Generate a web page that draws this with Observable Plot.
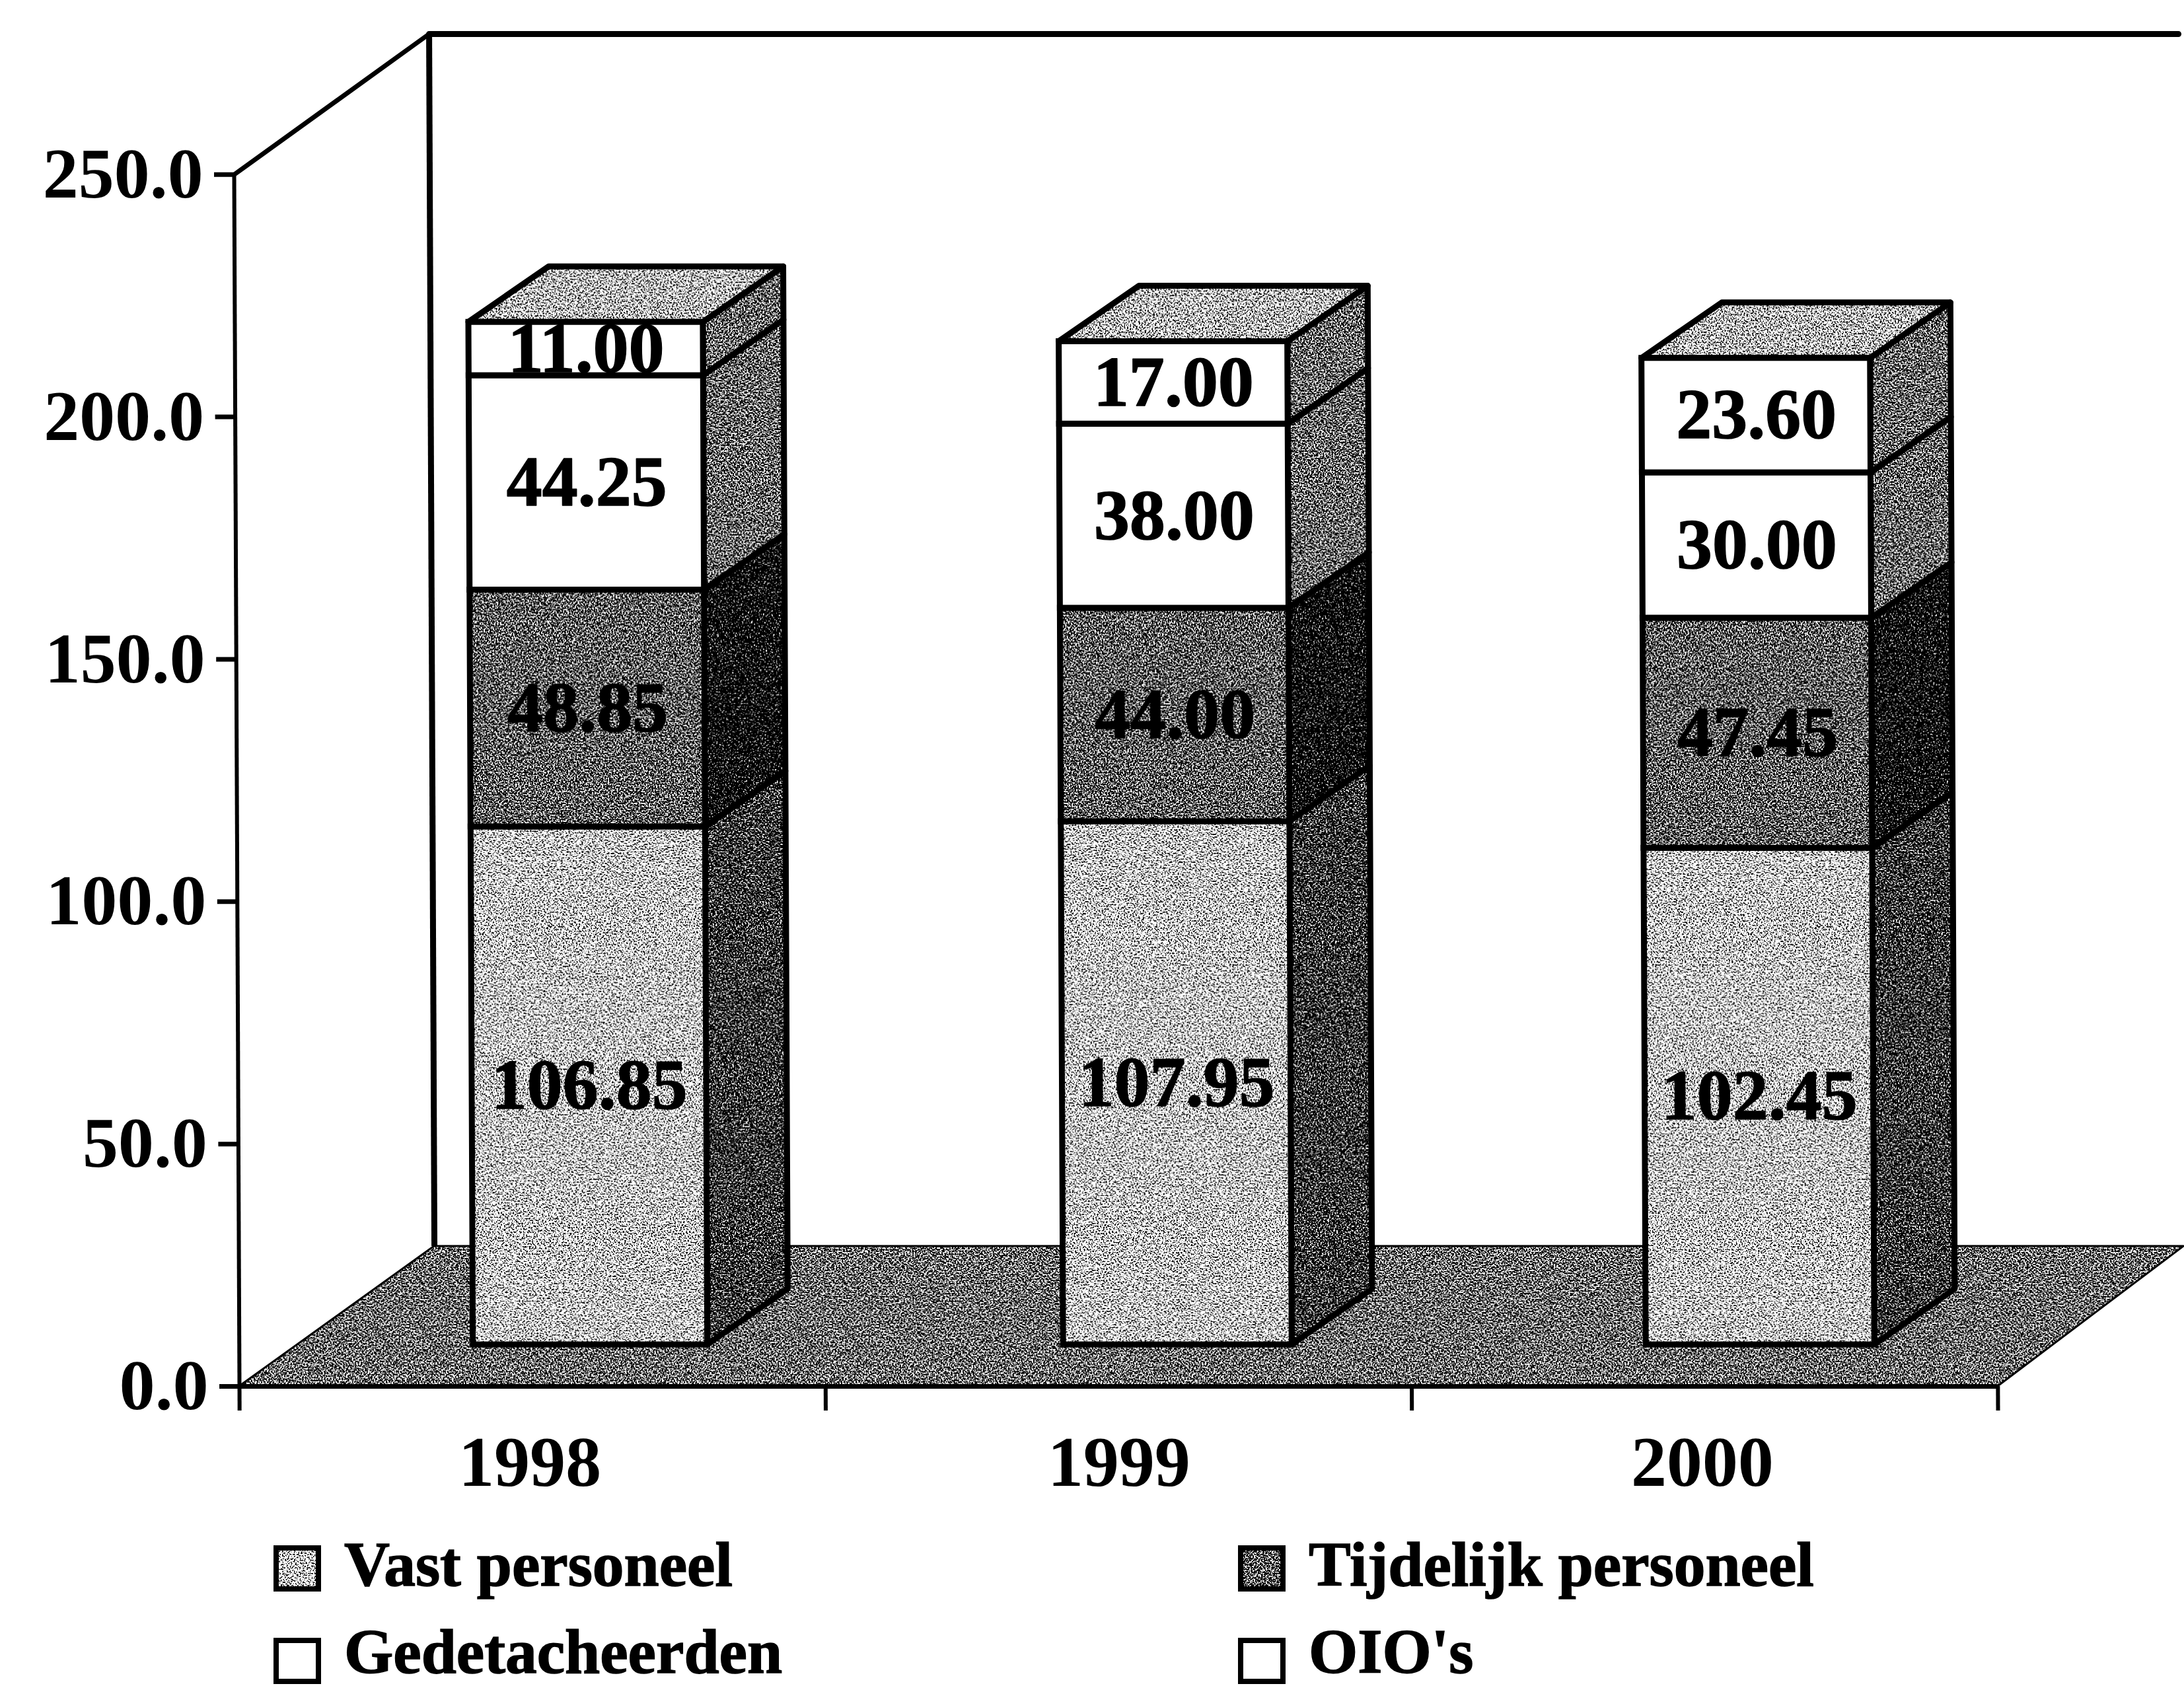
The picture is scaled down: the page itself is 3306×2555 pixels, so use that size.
<!DOCTYPE html>
<html>
<head>
<meta charset="utf-8">
<script src="https://cdn.jsdelivr.net/npm/d3@7"></script>
<script src="https://cdn.jsdelivr.net/npm/@observablehq/plot@0.6"></script>
<style>
html,body{margin:0;padding:0;background:#fff;}
#legend{position:relative;height:265px;overflow:hidden;font-family:"Liberation Serif",serif;font-weight:bold;font-size:95.5px;line-height:1;color:#000;-webkit-text-stroke:1.5px #000;}
.item{position:absolute;display:flex;align-items:center;height:72px;white-space:nowrap;}
.item svg{display:block;margin-right:35px;overflow:visible;}
.item span{position:relative;}
</style>
</head>
<body>
<svg width="0" height="0" style="position:absolute" id="defs"></svg>
<div id="chart"></div>
<div id="legend"></div>
<script>
// Values
const years = ["1998", "1999", "2000"];
const seriesNames = ["Vast personeel", "Tijdelijk personeel", "Gedetacheerden", "OIO's"];
const vast = [106.85, 107.95, 102.45];
const tijdelijk = [48.85, 44.00, 47.45];
const gedetacheerden = [44.25, 38.00, 30.00];
const oios = [11.00, 17.00, 23.60];
const yTicks = [0, 50, 100, 150, 200, 250];

// Structure of the pseudo-3D drawing, in data units
const barLeft = [0.399, 1.406, 2.400];
const barWidths = [0.4, 0.39, 0.39];
const barBase = 8.6;
const barDepthX = 0.1375;
const barDepthY = 11.45;
const floorDepthX = 0.3336;
const floorDepthY = 28.9;
const xMax = 3.318;
const yMax = 279;

// Speckled halftone fills
const tones = {light: 0.43, top: 0.445, mid: 0.535, floor: 0.52, side: 0.525, sideDark: 0.58, darkest: 0.65};
let defs = "";
for (const [k, t] of Object.entries(tones)) {
  const slope = 14, icpt = 0.5 - slope * t;
  const f = `type="linear" slope="${slope}" intercept="${icpt}"`;
  defs += `<filter id="n-${k}" filterUnits="userSpaceOnUse" x="0" y="0" width="640" height="640" color-interpolation-filters="sRGB">
    <feTurbulence type="fractalNoise" baseFrequency="0.45" numOctaves="2" seed="7" stitchTiles="stitch"/>
    <feColorMatrix type="matrix" values="1 0 0 0 0 1 0 0 0 0 1 0 0 0 0 0 0 0 0 1"/>
    <feComponentTransfer><feFuncR ${f}/><feFuncG ${f}/><feFuncB ${f}/></feComponentTransfer>
  </filter>
  <pattern id="p-${k}" patternUnits="userSpaceOnUse" width="640" height="640">
    <rect width="640" height="640" filter="url(#n-${k})"/>
  </pattern>`;
}
document.getElementById("defs").innerHTML = "<defs>" + defs + "</defs>";
const P = k => `url(#p-${k})`;

const seriesValues = [vast, tijdelijk, gedetacheerden, oios];
const frontFill = [P("light"), P("mid"), "white", "white"];
const sideFill = [P("sideDark"), P("darkest"), P("side"), P("side")];

// Stacked segments
const segments = [];
years.forEach((year, i) => {
  let y0 = barBase;
  seriesValues.forEach((vals, s) => {
    segments.push({year, s, value: vals[i], x1: barLeft[i], x2: barLeft[i] + barWidths[i], y1: y0, y2: y0 + vals[i]});
    y0 += vals[i];
  });
});
const sideRows = segments.flatMap(d => [
  {s: d.s, year: d.year, x: d.x2, y1: d.y1, y2: d.y2},
  {s: d.s, year: d.year, x: d.x2 + barDepthX, y1: d.y1 + barDepthY, y2: d.y2 + barDepthY}
]);
const topRows = years.flatMap((year, i) => {
  const y = barBase + vast[i] + tijdelijk[i] + gedetacheerden[i] + oios[i];
  return [
    {year, y, x1: barLeft[i], x2: barLeft[i] + barWidths[i]},
    {year, y: y + barDepthY, x1: barLeft[i] + barDepthX, x2: barLeft[i] + barWidths[i] + barDepthX}
  ];
});
const floorRows = [
  {y: 0, x1: 0, x2: 3},
  {y: floorDepthY, x1: floorDepthX, x2: xMax}
];
const ink = 9;
const labelFont = 108;

const chart = Plot.plot({
  width: 3306, height: 2290,
  marginLeft: 362, marginRight: 0, marginTop: 51, marginBottom: 192,
  x: {domain: [0, xMax], label: null},
  y: {domain: [0, yMax], label: null},
  style: {fontFamily: '"Liberation Serif", serif', fontWeight: "bold", overflow: "visible", background: "transparent",
          transform: "skewX(0.25deg)", transformOrigin: "0 2098px"},
  marks: [
    // walls
    Plot.ruleX([floorDepthX], {y1: floorDepthY, y2: yMax, stroke: "black", strokeWidth: ink}),
    Plot.line([{x: 0, y: 250}, {x: floorDepthX, y: yMax}], {x: "x", y: "y", stroke: "black", strokeWidth: 7}),
    Plot.line([{x: floorDepthX, y: yMax}, {x: xMax, y: yMax}], {x: "x", y: "y", stroke: "black", strokeWidth: ink}),
    Plot.ruleX([0], {y1: 0, y2: 250, stroke: "black", strokeWidth: 6}),
    // floor
    Plot.areaX(floorRows, {y: "y", x1: "x1", x2: "x2", fill: P("floor"), stroke: "black", strokeWidth: 3}),
    Plot.ruleY([0], {x1: 0, x2: 3, stroke: "black", strokeWidth: 7}),
    // axes
    Plot.axisY({anchor: "left", ticks: yTicks, tickSize: 30, tickPadding: 17, stroke: "black", strokeWidth: 7, fontSize: labelFont, tickFormat: d => d.toFixed(1), label: null}),
    Plot.axisX({anchor: "bottom", ticks: [0, 1, 2, 3], tickSize: 37, strokeWidth: 6, tickFormat: () => "", label: null}),
    Plot.axisX({anchor: "bottom", ticks: [0.495, 1.5, 2.495], tickSize: 0, tickPadding: 74, fontSize: labelFont, tickFormat: d => years[Math.floor(d)], label: null}),
    // bar sides, per series
    ...seriesNames.map((_, s) => Plot.areaY(sideRows.filter(d => d.s === s), {x: "x", y1: "y1", y2: "y2", z: "year", fill: sideFill[s], stroke: "black", strokeWidth: ink})),
    // bar tops
    Plot.areaX(topRows, {y: "y", x1: "x1", x2: "x2", z: "year", fill: P("top"), stroke: "black", strokeWidth: ink}),
    // bar fronts, per series
    ...seriesNames.map((_, s) => Plot.rect(segments.filter(d => d.s === s), {x1: "x1", x2: "x2", y1: "y1", y2: "y2", fill: frontFill[s], stroke: "black", strokeWidth: ink})),
    // values
    Plot.text(segments, {x: d => (d.x1 + d.x2) / 2, y: d => (d.y1 + d.y2) / 2, text: d => d.value.toFixed(2), fontSize: labelFont, fill: "black", stroke: "black", strokeWidth: 1.5})
  ]
});
document.getElementById("chart").appendChild(chart);

// Legend below the plot
const legendPlaces = [
  {left: 414, top: 48, lift: -5}, {left: 1874, top: 48, lift: -5},
  {left: 414, top: 188, lift: -13}, {left: 1874, top: 188, lift: -13}
];
const legend = document.getElementById("legend");
seriesNames.forEach((name, s) => {
  const el = document.createElement("div");
  el.className = "item";
  el.style.left = legendPlaces[s].left + "px";
  el.style.top = legendPlaces[s].top + "px";
  el.innerHTML = `<svg width="72" height="70"><rect x="4" y="4" width="64" height="62" fill="${frontFill[s]}" stroke="black" stroke-width="8"/></svg><span style="top:${legendPlaces[s].lift}px">${name}</span>`;
  legend.appendChild(el);
});
</script>
</body>
</html>
